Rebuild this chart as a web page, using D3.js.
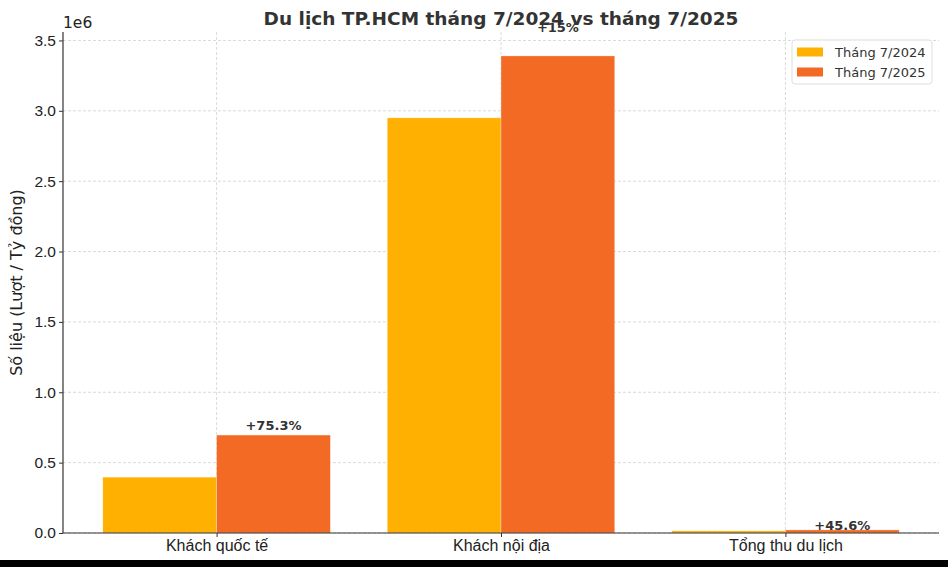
<!DOCTYPE html>
<html>
<head>
<meta charset="utf-8">
<script src="https://cdn.jsdelivr.net/npm/d3@7"></script>
<style>
  body { margin: 0; background: #fff; }
  svg { display: block; font-family: "DejaVu Sans", sans-serif; }
</style>
</head>
<body>
<div id="chart"></div>
<script>
// du lieu doc tu hinh
const categories = ["Khách quốc tế", "Khách nội địa", "Tổng thu du lịch"];
const values2024 = [397000, 2950000, 15000];
const values2025 = [696000, 3390000, 21840];
const growthLabels = ["+75.3%", "+15%", "+45.6%"];
const seriesNames = ["Tháng 7/2024", "Tháng 7/2025"];
const seriesColors = ["#FFB000", "#F36A24"];
const yTicks = [0, 500000, 1000000, 1500000, 2000000, 2500000, 3000000, 3500000];

const width = 948, height = 567;
const margin = {top: 32, right: 9, bottom: 34, left: 63};
const plotBottom = height - margin.bottom; // 533

const svg = d3.select("#chart").append("svg")
    .attr("width", width)
    .attr("height", height);

const x = d3.scaleLinear()
    .domain([-0.54, 2.54])
    .range([margin.left, width - margin.right]);

const y = d3.scaleLinear()
    .domain([0, 3560000])
    .range([plotBottom, margin.top]);

const barW = 0.4;

// luoi
const grid = svg.append("g");
grid.selectAll(".hgrid")
    .data(yTicks)
    .enter().append("line")
    .attr("x1", margin.left).attr("x2", width - margin.right)
    .attr("y1", d => y(d)).attr("y2", d => y(d))
    .attr("stroke", "#d0d0d0")
    .attr("stroke-width", 0.8)
    .attr("stroke-dasharray", "3,2");
grid.selectAll(".vgrid")
    .data(categories)
    .enter().append("line")
    .attr("x1", (d, i) => x(i)).attr("x2", (d, i) => x(i))
    .attr("y1", margin.top).attr("y2", plotBottom)
    .attr("stroke", "#d0d0d0")
    .attr("stroke-width", 0.8)
    .attr("stroke-dasharray", "3,2");

// cot
const series = [values2024, values2025];
series.forEach((vals, s) => {
    svg.append("g").selectAll("rect")
        .data(vals)
        .enter().append("rect")
        .attr("x", (d, i) => x(i - barW + s * barW))
        .attr("width", x(barW) - x(0))
        .attr("y", d => y(d))
        .attr("height", d => plotBottom - y(d))
        .attr("fill", seriesColors[s])
        .attr("stroke", "#fff")
        .attr("stroke-width", 0.5)
        .attr("stroke-opacity", 0.6);
});

// truc y
const yAxis = d3.axisLeft(y)
    .tickValues(yTicks)
    .tickFormat(d => (d / 1e6).toFixed(1))
    .tickSize(4)
    .tickPadding(3);
const gy = svg.append("g")
    .attr("transform", `translate(${margin.left},0)`)
    .call(yAxis);
gy.select(".domain").attr("stroke", "#333").attr("stroke-width", 1.2)
    .attr("d", `M0,${margin.top}V${plotBottom}`);
gy.selectAll(".tick line").attr("stroke", "#333");
gy.selectAll(".tick text")
    .attr("fill", "#222")
    .style("font-size", "15.5px");

// truc x
const xAxis = d3.axisBottom(x)
    .tickValues(d3.range(categories.length))
    .tickFormat(i => categories[i])
    .tickSize(4)
    .tickPadding(3);
const gx = svg.append("g")
    .attr("transform", `translate(0,${plotBottom})`)
    .call(xAxis);
gx.select(".domain").attr("stroke", "#333").attr("stroke-width", 1.2)
    .attr("d", `M${margin.left},0H${width - margin.right}`);
gx.selectAll(".tick line").attr("stroke", "#333");
gx.selectAll(".tick text")
    .attr("fill", "#222")
    .style("font-size", "16px");

// 1e6
svg.append("text")
    .attr("x", margin.left)
    .attr("y", 28)
    .attr("fill", "#222")
    .style("font-size", "15.5px")
    .text("1e6");

// nhan truc y
svg.append("text")
    .attr("transform", `translate(22,${(margin.top + plotBottom) / 2}) rotate(-90)`)
    .attr("text-anchor", "middle")
    .attr("fill", "#222")
    .style("font-size", "16px")
    .text("Số liệu (Lượt / Tỷ đồng)");

// tieu de
svg.append("text")
    .attr("x", (margin.left + width - margin.right) / 2)
    .attr("y", 25)
    .attr("text-anchor", "middle")
    .attr("fill", "#333")
    .style("font-size", "18.5px")
    .style("font-weight", "bold")
    .text("Du lịch TP.HCM tháng 7/2024 vs tháng 7/2025");

// nhan tang truong (dat o 1.05 * gia tri, giong hinh goc)
svg.append("g").selectAll("text")
    .data(values2025)
    .enter().append("text")
    .attr("x", (d, i) => x(i + barW / 2))
    .attr("y", d => y(d * 1.05))
    .attr("text-anchor", "middle")
    .attr("fill", "#333")
    .style("font-size", "13px")
    .style("font-weight", "bold")
    .text((d, i) => growthLabels[i]);

// chu giai
const legend = svg.append("g").attr("transform", "translate(792,40)");
legend.append("rect")
    .attr("width", 140).attr("height", 44)
    .attr("rx", 3)
    .attr("fill", "#fff")
    .attr("fill-opacity", 0.85)
    .attr("stroke", "#ddd");
seriesNames.forEach((name, i) => {
    legend.append("rect")
        .attr("x", 5).attr("y", 7.5 + i * 20)
        .attr("width", 26).attr("height", 9)
        .attr("fill", seriesColors[i]);
    legend.append("text")
        .attr("x", 43).attr("y", 16.5 + i * 20)
        .attr("fill", "#333")
        .style("font-size", "13px")
        .text(name);
});

// vien den duoi
svg.append("rect")
    .attr("x", 0).attr("y", 560)
    .attr("width", width).attr("height", height - 560)
    .attr("fill", "#000");
</script>
</body>
</html>
